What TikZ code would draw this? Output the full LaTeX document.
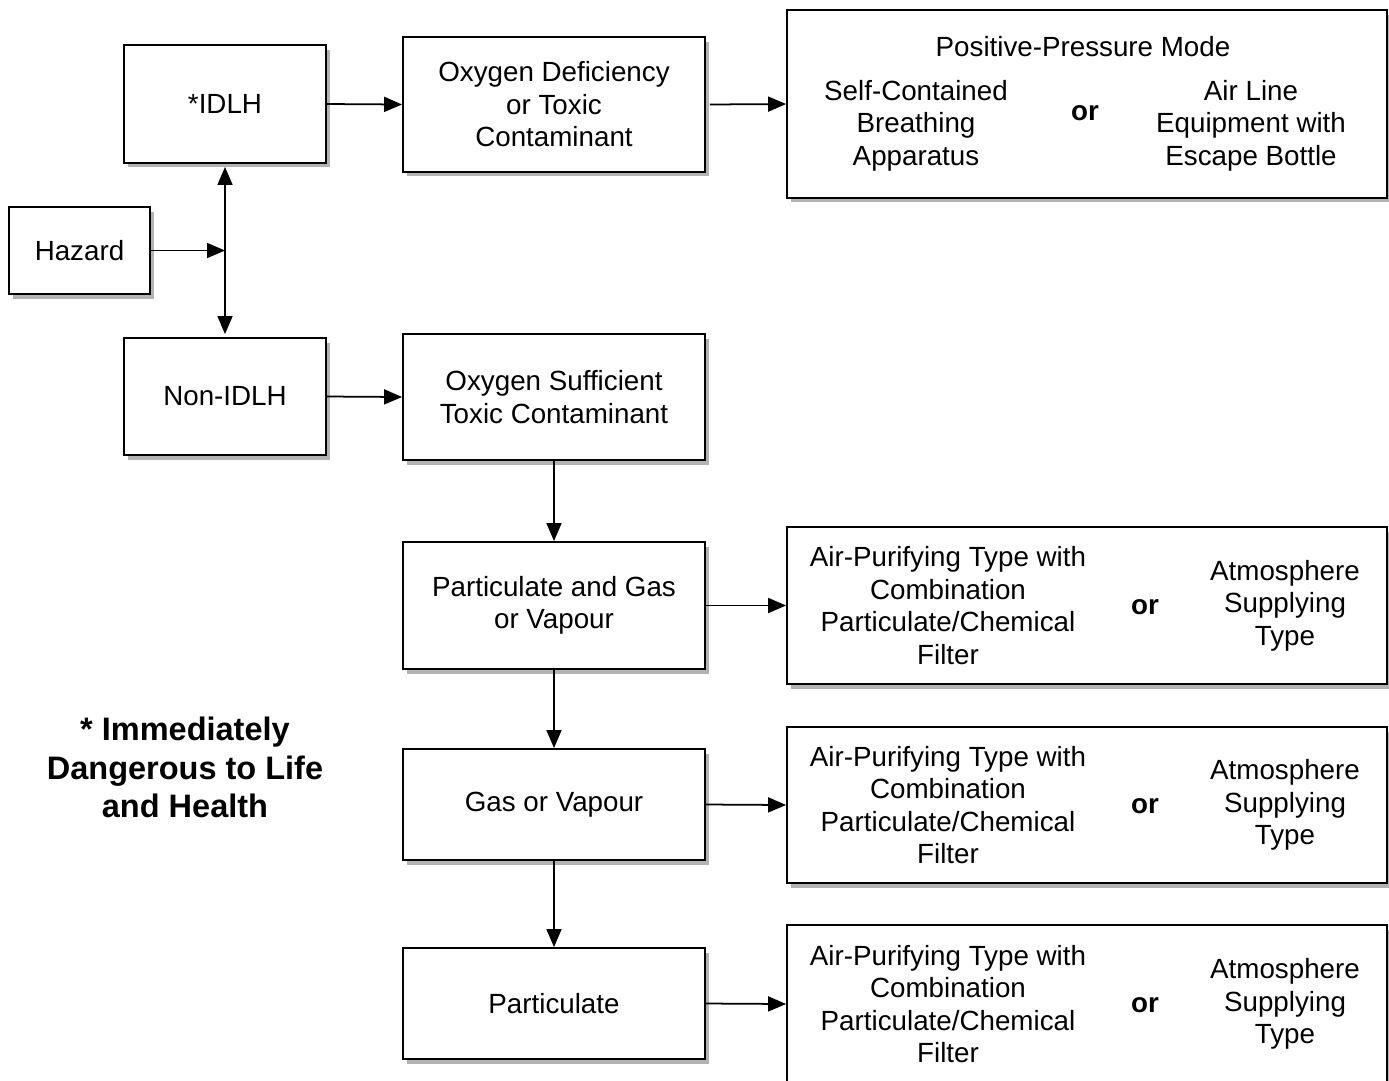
\documentclass[tikz,border=0pt]{standalone}
\usepackage{fontspec}
\setmainfont{Liberation Sans}
\usetikzlibrary{arrows.meta,shadows}

\begin{document}
\begin{tikzpicture}[x=0.02cm,y=-0.02cm,
        box/.style={draw,line width=1.1pt,fill=white,inner sep=0pt,align=center,
            font=\fontsize{15.8}{18.5}\selectfont,
            drop shadow={shadow xshift=0.08cm,shadow yshift=-0.09cm,opacity=0.3,fill=black}},
        txt/.style={align=center,font=\fontsize{15.8}{18.5}\selectfont},
        ortxt/.style={font=\fontsize{15.8}{18.5}\selectfont\bfseries},
        arr/.style={-{Triangle[length=0.36cm,width=0.3cm]},line width=1pt}]
        \useasboundingbox (0,0) rectangle (1389,1080);

        % left column
        \node[box,minimum width=2.82cm,minimum height=1.74cm] (hazard) at (79.5,250.5) {Hazard};
        \node[box,minimum width=4.04cm,minimum height=2.36cm] (idlh) at (225,104) {*IDLH};
        \node[box,minimum width=4.04cm,minimum height=2.34cm] (nonidlh) at (225,396.5) {Non-IDLH};
        \coordinate (split) at (225,250.5);

        % middle column
        \node[box,minimum width=6.04cm,minimum height=2.7cm] (oxdef) at (554,104.5) {Oxygen Deficiency\\or Toxic\\Contaminant};
        \node[box,minimum width=6.04cm,minimum height=2.52cm] (oxsuf) at (554,397) {Oxygen Sufficient\\Toxic Contaminant};
        \node[box,minimum width=6.04cm,minimum height=2.54cm] (pgv) at (554,605.5) {Particulate and Gas\\or Vapour};
        \node[box,minimum width=6.04cm,minimum height=2.22cm] (gv) at (554,804.5) {Gas or Vapour};
        \node[box,minimum width=6.04cm,minimum height=2.22cm] (part) at (554,1003.5) {Particulate};

        % right column
        \node[box,minimum width=12cm,minimum height=3.76cm] (ppm) at (1087,104) {};
        \node[txt] (ppmtitle) at (1083,47) {Positive-Pressure Mode};
        \node[txt] (scba) at (916,125.5) {Self-Contained\\Breathing\\Apparatus};
        \node[ortxt] (ppmor) at (1085,113) {or};
        \node[txt] (airline) at (1251,125.5) {Air Line\\Equipment with\\Escape Bottle};

        \node[box,minimum width=12cm,minimum height=3.14cm] (r1) at (1087,605.5) {};
        \node[txt] (r1a) at (948,605.5) {Air-Purifying Type with\\Combination\\Particulate/Chemical\\Filter};
        \node[ortxt] (r1or) at (1145,607) {or};
        \node[txt] (r1b) at (1285,605.5) {Atmosphere\\Supplying\\Type};

        \node[box,minimum width=12cm,minimum height=3.12cm] (r2) at (1087,805) {};
        \node[txt] (r2a) at (948,805) {Air-Purifying Type with\\Combination\\Particulate/Chemical\\Filter};
        \node[ortxt] (r2or) at (1145,806) {or};
        \node[txt] (r2b) at (1285,805) {Atmosphere\\Supplying\\Type};

        \node[box,minimum width=12cm,minimum height=3.16cm] (r3) at (1087,1004) {};
        \node[txt] (r3a) at (948,1004) {Air-Purifying Type with\\Combination\\Particulate/Chemical\\Filter};
        \node[ortxt] (r3or) at (1145,1005) {or};
        \node[txt] (r3b) at (1285,1004) {Atmosphere\\Supplying\\Type};

        % footnote
        \node[align=center,font=\fontsize{18.5}{22}\selectfont\bfseries] (note) at (185,767.5) {* Immediately\\Dangerous to Life\\and Health};

        % connectors
        \draw[arr] (hazard.east) -- (split);
        \draw[arr] (split) -- ([yshift=-0.06cm]idlh.south);
        \draw[arr] (split) -- ([yshift=0.06cm]nonidlh.north);
        \draw[arr] (idlh.east) -- (oxdef.west);
        \draw[arr] ([xshift=0.08cm]oxdef.east) -- (ppm.west);
        \draw[arr] (nonidlh.east) -- (oxsuf.west);
        \draw[arr] (oxsuf.south) -- (pgv.north);
        \draw[arr] (pgv.east) -- (r1.west);
        \draw[arr] (pgv.south) -- (gv.north);
        \draw[arr] (gv.east) -- (r2.west);
        \draw[arr] (gv.south) -- (part.north);
        \draw[arr] (part.east) -- (r3.west);

    \end{tikzpicture}
\end{document}
